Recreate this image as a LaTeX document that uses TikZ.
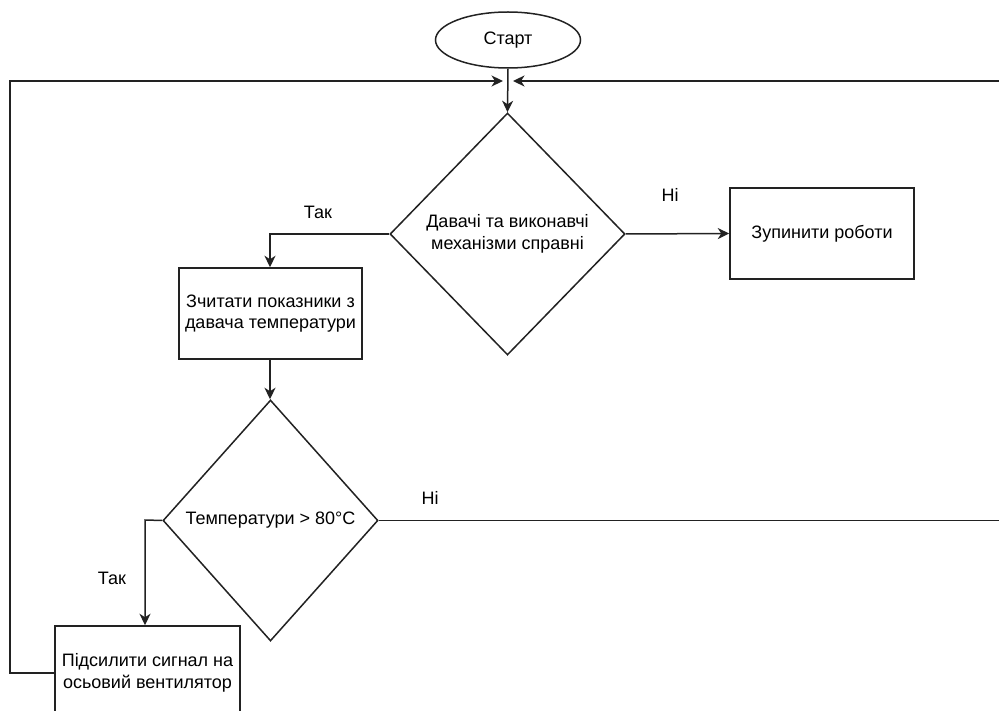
\documentclass[tikz,border=0pt]{standalone}
\usepackage{fontspec}
\setmainfont{Liberation Sans}
\usetikzlibrary{shapes.geometric,arrows.meta}
\definecolor{stroke}{HTML}{222222}
\begin{document}
\begin{tikzpicture}[x=1pt,y=-1pt,
  every node/.style={font=\fontsize{18}{21.6}\selectfont, text=black},
  shapebase/.style={draw=stroke, line width=1.5pt, fill=white, align=center, inner sep=0pt},
  term/.style={shapebase, ellipse, minimum width=145pt, minimum height=56pt},
  decision/.style={shapebase, diamond},
  process/.style={shapebase, rectangle},
  lbl/.style={inner sep=0pt},
  flow/.style={draw=stroke, line width=1.5pt},
  arr/.style={flow, -{Stealth[length=11.5pt,width=11pt,inset=3.5pt]}}]
\useasboundingbox (0,0) rectangle (999,711);
\fill[white] (0,0) rectangle (999,711);
\clip (0,0) rectangle (999,711);

% loop-back and junction points
\coordinate (loopL) at (10,81);
\coordinate (loopR) at (1010,81);
\coordinate (mergeL) at (503,81);
\coordinate (mergeR) at (513,81);
\coordinate (yes2) at (145,520);

% blocks
\node[term] (start) at (508,40) {Старт};
\node[decision, minimum width=235pt, minimum height=242pt] (check) at (507.5,234)
  {Давачі та виконавчі\\механізми справні};
\node[process, minimum width=184pt, minimum height=91pt] (stop) at (822,233.5)
  {Зупинити роботи};
\node[process, minimum width=183pt, minimum height=91pt] (read) at (270.5,313.5)
  {Зчитати показники з\\давача температури};
\node[decision, minimum width=215pt, minimum height=241pt] (temp) at (270.5,520.5)
  {Температури > 80°C};
\node[process, minimum width=185pt, minimum height=94pt] (boost) at (147.5,673)
  {Підсилити сигнал на\\осьовий вентилятор};

% branch labels
\node[lbl] (noA) at (670,195) {Ні};
\node[lbl] (yesA) at (318,212) {Так};
\node[lbl] (noB) at (430,498) {Ні};
\node[lbl] (yesB) at (112,578) {Так};

% connectors
\draw[arr] (start.south) -- (check.north);
\draw[arr] (check.east) -- (stop.west);
\draw[arr] (check.west) -| (read.north -| 270,0);
\draw[arr] (read.south -| 270,0) -- (temp.north -| 270,0);
\draw[arr] (temp.west) -- (yes2) -- (yes2 |- boost.north);
\draw[arr] (temp.east) -| (loopR) -- (mergeR);
\draw[arr] (boost.west) -| (loopL) -- (mergeL);
\end{tikzpicture}
\end{document}
